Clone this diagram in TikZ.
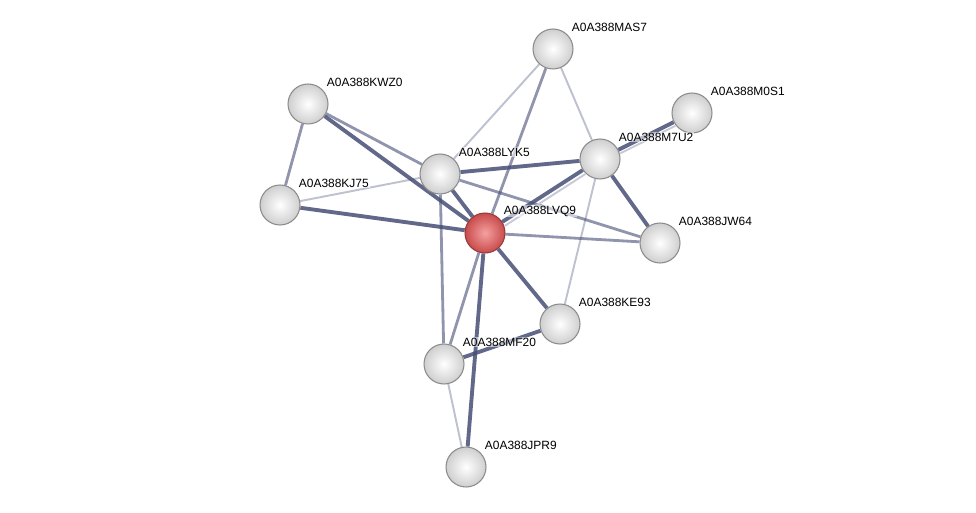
\documentclass[tikz,border=0pt]{standalone}
\usepackage{fontspec}
\setmainfont{Liberation Sans}
\usepackage{xcolor}
\usepackage{tikz}
\usetikzlibrary{backgrounds}
\definecolor{edgecol}{RGB}{70,78,118}
\definecolor{ballline}{RGB}{140,140,140}
\definecolor{redline}{RGB}{150,60,60}
\definecolor{redin}{RGB}{245,160,160}
\definecolor{redout}{RGB}{200,75,75}

\begin{document}
\begin{tikzpicture}[
  x=0.02cm, y=-0.02cm,
  prot/.style={circle, draw=ballline, line width=0.6pt, minimum size=0.8cm,
               inner sep=0pt, shading=radial, inner color=white, outer color=gray!38},
  query/.style={prot, draw=redline, inner color=redin, outer color=redout},
  lbl/.style={font=\fontsize{6.8}{8}\selectfont, inner sep=0.6pt,
              fill=white, fill opacity=0.55, text opacity=1,
              xshift=-0.06cm, yshift=0.44cm},
  weak/.style={draw=edgecol, line width=1.1pt, opacity=0.35},
  mid/.style={draw=edgecol, line width=1.6pt, opacity=0.6},
  strong/.style={draw=edgecol, line width=2.2pt, opacity=0.85},
  pale/.style={draw=edgecol!30, line width=1.1pt}
]
\useasboundingbox (0,0) rectangle (976,513);

% proteins
\node[prot]  (kwz0) at (308,104) [label={[lbl]0:A0A388KWZ0}] {};
\node[prot]  (kj75) at (280,205) [label={[lbl]0:A0A388KJ75}] {};
\node[prot]  (lyk5) at (440,174) [label={[lbl]0:A0A388LYK5}] {};
\node[query] (lvq9) at (485,233) [label={[lbl]0:A0A388LVQ9}] {};
\node[prot]  (mas7) at (553,49)  [label={[lbl]0:A0A388MAS7}] {};
\node[prot]  (m0s1) at (692,113) [label={[lbl]0:A0A388M0S1}] {};
\node[prot]  (m7u2) at (600,159) [label={[lbl]0:A0A388M7U2}] {};
\node[prot]  (jw64) at (660,243) [label={[lbl]0:A0A388JW64}] {};
\node[prot]  (ke93) at (560,324) [label={[lbl]0:A0A388KE93}] {};
\node[prot]  (mf20) at (444,364) [label={[lbl]0:A0A388MF20}] {};
\node[prot]  (jpr9) at (466,467) [label={[lbl]0:A0A388JPR9}] {};

% interactions
\begin{scope}[on background layer]
\draw[mid]    (kwz0) -- (kj75);
\draw[mid]    (kwz0) -- (lyk5);
\draw[strong] (kwz0) -- (lvq9);
\draw[weak]   (kj75) -- (lyk5);
\draw[strong] (kj75) -- (lvq9);
\draw[strong] (lyk5) -- (lvq9);
\draw[weak]   (lyk5) -- (mas7);
\draw[strong] (lyk5) -- (m7u2);
\draw[mid]    (lyk5) -- (jw64);
\draw[mid]    (lyk5) -- (mf20);
\draw[mid]    (lvq9) -- (mas7);
\draw[strong] (lvq9) -- (m7u2);
\draw[pale, transform canvas={shift={(2.5,4)}}] (lvq9) -- (m7u2);
\draw[mid]    (lvq9) -- (jw64);
\draw[strong] (lvq9) -- (ke93);
\draw[mid]    (lvq9) -- (mf20);
\draw[strong] (lvq9) -- (jpr9);
\draw[weak]   (mas7) -- (m7u2);
\draw[strong] (m7u2) -- (m0s1);
\draw[pale, transform canvas={shift={(1.8,3.6)}}] (m7u2) -- (m0s1);
\draw[strong] (m7u2) -- (jw64);
\draw[weak]   (m7u2) -- (ke93);
\draw[strong] (ke93) -- (mf20);
\draw[weak]   (mf20) -- (jpr9);
\end{scope}

\end{tikzpicture}
\end{document}
